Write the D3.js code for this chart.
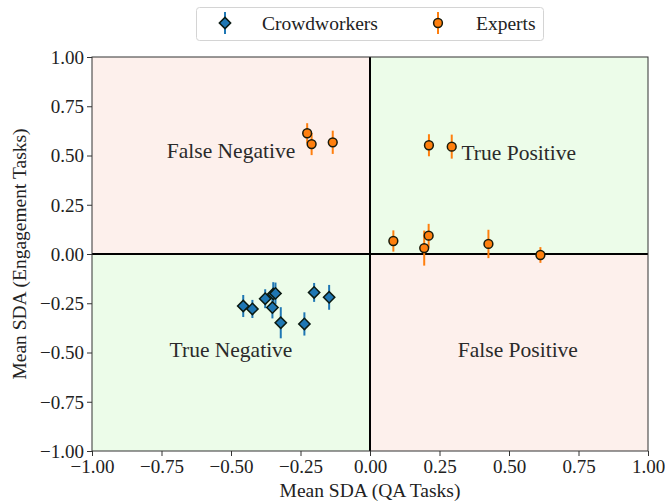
<!DOCTYPE html>
<html><head><meta charset="utf-8">
<script src="https://cdn.jsdelivr.net/npm/d3@7"></script>
<style>body{margin:0;background:#fff}svg{display:block}text{font-family:"Liberation Serif","Times New Roman",serif}</style>
</head><body><div id="chart"></div>
<script>
const crowdX = [-0.456,-0.423,-0.377,-0.348,-0.340,-0.351,-0.321,-0.236,-0.201,-0.147];
const crowdY = [-0.264,-0.279,-0.227,-0.203,-0.200,-0.272,-0.349,-0.355,-0.195,-0.220];
const crowdErr = [0.056,0.046,0.048,0.060,0.055,0.055,0.079,0.059,0.048,0.063];
const expX = [-0.226,-0.210,-0.134,0.212,0.294,0.084,0.195,0.211,0.426,0.613];
const expY = [0.613,0.558,0.567,0.552,0.545,0.066,0.030,0.093,0.051,-0.005];
const expErr = [0.051,0.056,0.059,0.056,0.061,0.054,0.089,0.060,0.072,0.040];
const ticks = [-1.00,-0.75,-0.50,-0.25,0.00,0.25,0.50,0.75,1.00];
const quadrants = [
  {x0:-1,x1:0,y0:0,y1:1,color:"#fdf0ec"},
  {x0:0,x1:1,y0:0,y1:1,color:"#ecfce9"},
  {x0:-1,x1:0,y0:-1,y1:0,color:"#ecfce9"},
  {x0:0,x1:1,y0:-1,y1:0,color:"#fdf0ec"}
];
const quadLabels = [
  {text:"False Negative",x:-0.50,y:0.487},
  {text:"True Positive",x:0.535,y:0.477},
  {text:"True Negative",x:-0.50,y:-0.523},
  {text:"False Positive",x:0.532,y:-0.523}
];
const W=665,H=504;
const m={l:92,r:17,t:57,b:53};
const svg=d3.select("#chart").append("svg").attr("width",W).attr("height",H);
const x=d3.scaleLinear().domain([-1,1]).range([m.l,W-m.r]);
const y=d3.scaleLinear().domain([-1,1]).range([H-m.b,m.t]);
const fmt=d3.format(".2f");
const minus=v=>fmt(v).replace("-","\u2212");

svg.selectAll("rect.q").data(quadrants).join("rect").attr("class","q")
  .attr("x",d=>x(d.x0)).attr("y",d=>y(d.y1))
  .attr("width",d=>x(d.x1)-x(d.x0)).attr("height",d=>y(d.y0)-y(d.y1))
  .attr("fill",d=>d.color);

svg.selectAll("text.ql").data(quadLabels).join("text").attr("class","ql")
  .attr("x",d=>x(d.x)).attr("y",d=>y(d.y)).attr("text-anchor","middle")
  .attr("font-size",21.5).attr("fill","#2a2a2a").text(d=>d.text);

// zero lines
svg.append("line").attr("x1",x(-1)).attr("x2",x(1)).attr("y1",y(0)).attr("y2",y(0)).attr("stroke","#000").attr("stroke-width",2);
svg.append("line").attr("x1",x(0)).attr("x2",x(0)).attr("y1",y(-1)).attr("y2",y(1)).attr("stroke","#000").attr("stroke-width",2);

// axes
const xa=svg.append("g").attr("transform",`translate(0,${H-m.b})`)
  .call(d3.axisBottom(x).tickValues(ticks).tickFormat(minus).tickSize(5).tickSizeOuter(0));
const ya=svg.append("g").attr("transform",`translate(${m.l},0)`)
  .call(d3.axisLeft(y).tickValues(ticks).tickFormat(minus).tickSize(5).tickSizeOuter(0));
[xa,ya].forEach(g=>{g.selectAll("text").attr("font-size",19).attr("fill","#222").style("font-family","Liberation Serif");
  g.selectAll("line").attr("stroke","#333");g.select(".domain").remove();});
xa.selectAll("text").attr("y",7).attr("dy","0.8em");
ya.selectAll("text").attr("x",-8).attr("dy","0.33em");
svg.append("rect").attr("x",x(-1)).attr("y",y(1)).attr("width",x(1)-x(-1)).attr("height",y(-1)-y(1))
  .attr("fill","none").attr("stroke","#333").attr("stroke-width",1);

svg.append("text").attr("x",x(0)).attr("y",497).attr("text-anchor","middle").attr("font-size",19.5).attr("fill","#222").text("Mean SDA (QA Tasks)");
svg.append("text").attr("transform",`translate(26,${y(0)}) rotate(-90)`).attr("text-anchor","middle").attr("font-size",19.5).attr("fill","#222").text("Mean SDA (Engagement Tasks)");

const crowd=crowdX.map((v,i)=>({x:v,y:crowdY[i],e:crowdErr[i]}));
const exp=expX.map((v,i)=>({x:v,y:expY[i],e:expErr[i]}));
const blue="#1f77b4",orange="#ff7f0e";

svg.selectAll("line.ce").data(crowd).join("line").attr("x1",d=>x(d.x)).attr("x2",d=>x(d.x))
  .attr("y1",d=>y(d.y-d.e)).attr("y2",d=>y(d.y+d.e)).attr("stroke",blue).attr("stroke-width",2);
const diamond=d3.symbol().type(d3.symbolSquare).size(64);
svg.selectAll("path.cm").data(crowd).join("path")
  .attr("transform",d=>`translate(${x(d.x)},${y(d.y)}) rotate(45)`)
  .attr("d",diamond).attr("fill",blue).attr("stroke","#0b1a12").attr("stroke-width",1.5);

svg.selectAll("line.ee").data(exp).join("line").attr("x1",d=>x(d.x)).attr("x2",d=>x(d.x))
  .attr("y1",d=>y(d.y-d.e)).attr("y2",d=>y(d.y+d.e)).attr("stroke",orange).attr("stroke-width",2);
svg.selectAll("circle.em").data(exp).join("circle").attr("cx",d=>x(d.x)).attr("cy",d=>y(d.y)).attr("r",4.4)
  .attr("fill",orange).attr("stroke","#1a1a0a").attr("stroke-width",1.5);

// legend
const lg=svg.append("g");
lg.append("rect").attr("x",196.5).attr("y",7.5).attr("width",347).attr("height",33).attr("rx",3)
  .attr("fill","#fff").attr("stroke","#d4d4d4");
lg.append("line").attr("x1",225).attr("x2",225).attr("y1",12).attr("y2",34).attr("stroke",blue).attr("stroke-width",2);
lg.append("path").attr("transform","translate(225,23) rotate(45)").attr("d",diamond).attr("fill",blue).attr("stroke","#0b1a12").attr("stroke-width",1.5);
lg.append("text").attr("x",262).attr("y",29.5).attr("font-size",19.5).attr("fill","#222").text("Crowdworkers");
lg.append("line").attr("x1",438).attr("x2",438).attr("y1",12).attr("y2",34).attr("stroke",orange).attr("stroke-width",2);
lg.append("circle").attr("cx",438).attr("cy",23).attr("r",4.4).attr("fill",orange).attr("stroke","#1a1a0a").attr("stroke-width",1.5);
lg.append("text").attr("x",476).attr("y",29.5).attr("font-size",19.5).attr("fill","#222").text("Experts");
</script></body></html>
